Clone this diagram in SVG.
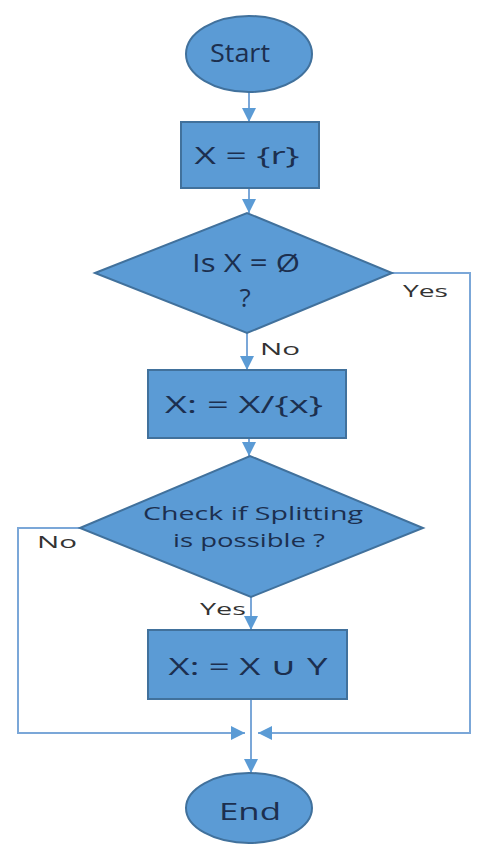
<svg xmlns="http://www.w3.org/2000/svg" width="479" height="845" viewBox="0 0 479 845">
<style>
.shape{fill:#5b9bd5;stroke:#41719c;stroke-width:2}
.nt{font-family:"Open Sans","Liberation Sans",sans-serif;fill:#1c2f4f;text-anchor:middle}
.lb{font-family:"Open Sans","Liberation Sans",sans-serif;fill:#333;font-size:16px}
.conn{fill:none;stroke:#7ba7d8;stroke-width:2}
</style>
<defs>
<marker id="ah" markerUnits="userSpaceOnUse" markerWidth="16" markerHeight="16" refX="14" refY="7" orient="auto">
<path d="M0,0 L14,7 L0,14 Z" fill="#5b9bd5"/>
</marker>
</defs>
<rect width="479" height="845" fill="#fff"/>
<g id="connectors">
<path class="conn" d="M249,92 V122" marker-end="url(#ah)"/>
<path class="conn" d="M249,188 V213" marker-end="url(#ah)"/>
<path class="conn" d="M247,333 V370" marker-end="url(#ah)"/>
<path class="conn" d="M249,438 V456" marker-end="url(#ah)"/>
<path class="conn" d="M251,597 V630" marker-end="url(#ah)"/>
<path class="conn" d="M251,699 V773" marker-end="url(#ah)"/>
<path class="conn" d="M392,273 H470 V733 H258" marker-end="url(#ah)"/>
<path class="conn" d="M80,528 H18 V733 H245" marker-end="url(#ah)"/>
<text class="lb" x="403" y="297" textLength="45" lengthAdjust="spacingAndGlyphs" font-size="17">Yes</text>
<text class="lb" x="260" y="355" textLength="40" lengthAdjust="spacingAndGlyphs">No</text>
<text class="lb" x="37" y="548" textLength="40" lengthAdjust="spacingAndGlyphs">No</text>
<text class="lb" x="200" y="615" textLength="46" lengthAdjust="spacingAndGlyphs" font-size="17">Yes</text>
</g>
<g id="start">
<ellipse class="shape" cx="249" cy="54" rx="63" ry="38"/>
<text class="nt" x="240" y="62" font-size="25" textLength="60" lengthAdjust="spacingAndGlyphs">Start</text>
</g>
<g id="init">
<rect class="shape" x="181" y="122" width="138" height="66"/>
<text class="nt" x="247" y="164" font-size="24" textLength="105" lengthAdjust="spacingAndGlyphs">X = {r}</text>
</g>
<g id="decision1">
<polygon class="shape" points="95,273 247,213 392,273 247,333"/>
<text class="nt" x="246" y="272" font-size="25" textLength="108" lengthAdjust="spacingAndGlyphs">Is X = Ø</text>
<text class="nt" x="245" y="307" font-size="26">?</text>
</g>
<g id="remove">
<rect class="shape" x="148" y="370" width="198" height="68"/>
<text class="nt" x="244" y="413" font-size="24" textLength="158" lengthAdjust="spacingAndGlyphs">X: = X/{x}</text>
</g>
<g id="decision2">
<polygon class="shape" points="80,528 250,456 423,528 251,597"/>
<text class="nt" x="253" y="520" font-size="19" textLength="220" lengthAdjust="spacingAndGlyphs">Check  if Splitting</text>
<text class="nt" x="249" y="547" font-size="19" textLength="152" lengthAdjust="spacingAndGlyphs">is possible ?</text>
</g>
<g id="union">
<rect class="shape" x="148" y="630" width="199" height="69"/>
<text class="nt" x="248" y="675" font-size="24" textLength="159" lengthAdjust="spacingAndGlyphs">X: = X ∪ Y</text>
</g>
<g id="end">
<ellipse class="shape" cx="249" cy="808" rx="63" ry="35"/>
<text class="nt" x="250" y="820" font-size="24" textLength="62" lengthAdjust="spacingAndGlyphs">End</text>
</g>
</svg>
